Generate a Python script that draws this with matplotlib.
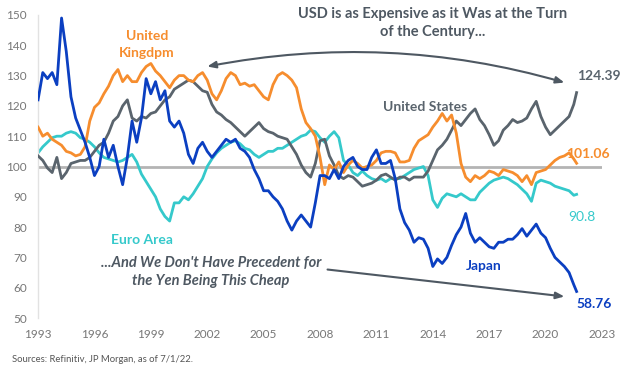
import numpy as np
import matplotlib
matplotlib.use("Agg")
import matplotlib.pyplot as plt

plt.rcParams['font.family'] = ['Lato', 'DejaVu Sans']

# quarterly readings, 1993 Q1 .. 2021 Q3, last value = 7/1/22 print
dates = list(np.arange(1993, 2021.51, 0.25)) + [2021.65]

japan = [122, 131, 129, 131, 127, 149, 138, 123, 116, 112, 108, 103,
         97, 100, 109, 103, 107, 100, 94, 103, 115, 108, 116, 129,
         124, 128, 122, 125, 115, 113, 115, 111, 104, 101, 106, 108,
         105, 103, 105, 107, 109, 108, 109, 106, 105, 103, 99, 96,
         92, 92, 90, 88.5, 86, 82, 79, 82, 84, 82, 80, 88,
         97, 97, 96, 99, 96, 100, 102, 103, 100, 99, 99, 103,
         105.5, 101, 101, 102, 96, 86, 81.5, 79, 75, 76.5, 76, 73,
         67, 69.5, 68, 70, 74, 77.5, 80, 84.5, 78, 75, 76.5, 75,
         73.5, 73, 75, 75, 76, 76, 77.5, 79.5, 77, 79, 81, 78,
         76.5, 73, 70, 68.5, 67, 65, 61, 58.76]

uk = [113, 110, 111, 109, 108, 107, 105, 104.5, 103.5, 104, 106.5, 115,
      119.5, 121, 124, 126.5, 130, 132, 128, 130, 128, 128, 131, 133,
      134, 131.5, 130, 128, 126, 128.5, 130, 130, 128.5, 128, 130, 131,
      128.5, 124, 122, 125, 129, 131, 130, 127, 127.5, 126.5, 127, 125,
      123, 122, 127, 130, 131, 130, 128.5, 126, 119, 114.5, 112.5, 110,
      103, 94, 100.5, 99, 101.5, 98, 100.5, 102, 101, 99.5, 100, 100.5,
      102, 104.5, 105, 105, 104.5, 101.5, 101.5, 102, 106, 108.5, 109.5, 110.5,
      113, 115, 117.5, 115, 117, 111, 101, 96.5, 95, 97, 96, 97,
      98.5, 98, 97, 99, 98.5, 98, 97, 95, 97, 94, 98, 98.5,
      99, 100.5, 102, 103, 103.5, 104.5, 102.5, 101.06]

us = [103.5, 102, 99.5, 98, 103, 96, 98, 101, 101.5, 102, 102, 103,
      105, 107, 108, 111, 115, 116.5, 120, 122, 116, 115, 116.5, 116,
      117.5, 118, 120, 122, 123, 125.5, 126.5, 127.5, 128.5, 128, 126.5, 125,
      124.5, 120.5, 118, 117, 115.5, 114.5, 113, 111.5, 110, 111.5, 113, 114.5,
      112.5, 111.5, 111, 110, 109.5, 109, 106.5, 104, 100.5, 98, 96.5, 101,
      108.5, 109, 103.5, 100.5, 97, 96, 97, 96.5, 95, 93.5, 94, 94.5,
      95.5, 97, 97.5, 96.5, 95.5, 96.5, 96.5, 95.5, 96.5, 96.5, 96.5, 98.5,
      102, 105.5, 107, 109, 112, 115, 113.5, 115.5, 117.5, 119, 115.5, 113.5,
      110.5, 107, 108.5, 112, 113.5, 115.5, 114.5, 115, 116, 119, 121.5, 116.5,
      113, 110.5, 112, 113.5, 115, 116.5, 120.5, 124.39]

euro = [104.5, 106.5, 108, 109.5, 110, 110, 111, 111.5, 111, 109.5, 109, 108,
        106.5, 104.5, 103, 102.5, 102, 101.5, 102, 103, 104, 101.5, 97.5, 95,
        92.5, 90, 86, 83.5, 82, 88, 88, 90, 89, 91, 93.5, 96,
        100, 102.5, 104.5, 106, 107, 108, 108.5, 107.5, 106, 105.5, 104, 103,
        104, 105, 105, 106, 106, 107, 108, 109, 110, 110.5, 112, 111.5,
        109.5, 108, 110, 111.5, 109.5, 102, 100.5, 98, 97, 98.5, 97, 96,
        95.5, 96, 95, 96, 96, 96, 97, 98, 99, 99.5, 100, 97,
        89, 86.5, 89.5, 91, 90.5, 90, 91, 90, 89, 89, 91.5, 93,
        94.5, 95.5, 96, 96.5, 96, 95, 94, 92.5, 91, 88.5, 94.5, 95.5,
        95, 94.5, 93.5, 93, 92.5, 92, 90.5, 90.8]

years = list(range(1993, 2024, 3))
yticks = list(range(50, 151, 10))

c_jp = "#0b3fc1"
c_uk = "#f68d2e"
c_us = "#5a646d"
c_eu = "#35c9cb"
c_txt = "#4e5862"

fig = plt.figure(figsize=(6.24, 3.70), dpi=100)
ax = fig.add_axes([0.061, 0.1405, 0.9037, 0.819])

ax.axhline(100, color="#b4b4b4", lw=2.0, zorder=1)
ax.plot(dates, euro, color=c_eu, lw=2.0, zorder=2)
ax.plot(dates, us, color=c_us, lw=2.0, zorder=3)
ax.plot(dates, uk, color=c_uk, lw=2.0, zorder=4)
ax.plot(dates, japan, color=c_jp, lw=2.0, zorder=5)

ax.set_xlim(1993, 2023)
ax.set_ylim(50, 150)
ax.set_xticks(years)
ax.set_yticks(yticks)
ax.tick_params(length=0, labelsize=8.5, labelcolor="#777777", pad=8)
for s in ["top", "right", "bottom"]:
    ax.spines[s].set_visible(False)
ax.spines["left"].set_color("#e2e2e2")
ax.spines["left"].set_linewidth(1)

# series labels
ax.text(1998.8, 140.2, "United\nKingdpm", color=c_uk, fontsize=10, fontweight="bold",
        ha="center", va="center", linespacing=1.5)
ax.text(2013.6, 119.8, "United States", color=c_us, fontsize=10, fontweight="bold",
        ha="center", va="center")
ax.text(1998.5, 75.8, "Euro Area", color=c_eu, fontsize=10, fontweight="bold",
        ha="center", va="center")
ax.text(2016.7, 67, "Japan", color=c_jp, fontsize=10, fontweight="bold",
        ha="center", va="center")

# end values
ax.text(2021.65, 129.8, "124.39", color=c_us, fontsize=10, fontweight="bold", va="center")
ax.text(2021.1, 104.2, "101.06", color=c_uk, fontsize=10, fontweight="bold", va="center")
ax.text(2021.2, 83.2, "90.8", color=c_eu, fontsize=10, va="center")
ax.text(2021.65, 54.6, "58.76", color=c_jp, fontsize=10, fontweight="bold", va="center")

# annotations
ax.text(2014.0, 147.4, "USD is as Expensive as it Was at the Turn\nof the Century...",
        color=c_txt, fontsize=10.5, fontweight="bold", ha="center", va="center",
        linespacing=1.4)
ax.annotate("", xy=(2021.0, 127.7), xytext=(2002.0, 133),
            arrowprops=dict(arrowstyle="<|-|>,head_length=0.5,head_width=0.2",
                            color=c_txt, lw=1.5, shrinkA=0, shrinkB=0,
                            connectionstyle="arc3,rad=-0.12"))
ax.text(2002.2, 65.2, "...And We Don't Have Precedent for\nthe Yen Being This Cheap",
        color=c_txt, fontsize=10.5, fontweight="bold", style="italic",
        ha="center", va="center", linespacing=1.4)
ax.annotate("", xy=(2021.0, 57.1), xytext=(2008.4, 66.0),
            arrowprops=dict(arrowstyle="-|>,head_length=0.5,head_width=0.2",
                            color=c_txt, lw=1.5, shrinkA=0, shrinkB=0))

fig.text(0.019, 0.022, "Sources: Refinitiv, JP Morgan, as of 7/1/22.", fontsize=6.8,
         color="#555555")

fig.savefig("out.png", dpi=100)
